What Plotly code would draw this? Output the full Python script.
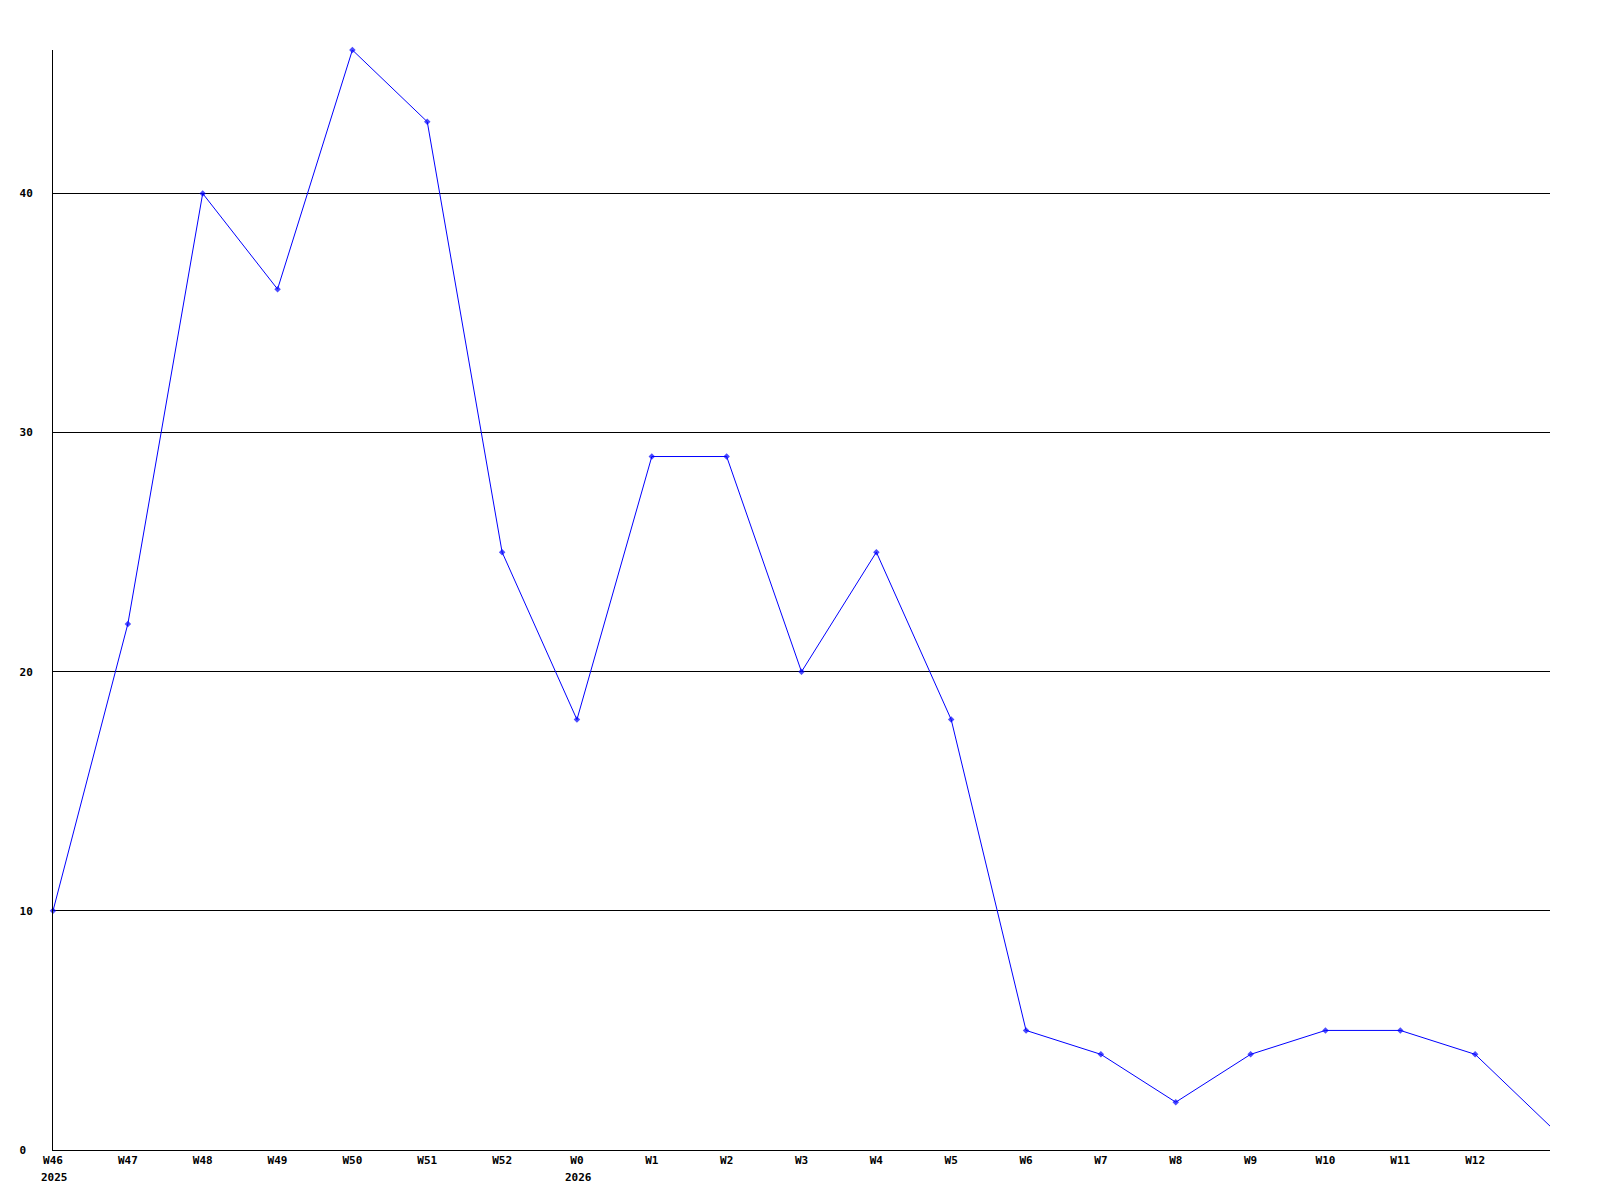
import plotly.graph_objects as go

# weekly counts, W46 2025 .. W13 2026 (last week unlabelled on the axis)
weeks = ["W46", "W47", "W48", "W49", "W50", "W51", "W52", "W0", "W1", "W2",
         "W3", "W4", "W5", "W6", "W7", "W8", "W9", "W10", "W11", "W12", "W13"]
counts = [10, 22, 40, 36, 46, 43, 25, 18, 29, 29,
          20, 25, 18, 5, 4, 2, 4, 5, 5, 4, 1]
year_marks = {"W46": "2025", "W0": "2026"}
y_ticks = [0, 10, 20, 30, 40]

FONT = dict(family="DejaVu Sans Mono, monospace", size=11, color="#000000", weight="bold")

xs = list(range(len(weeks)))
sizes = [5] * (len(weeks) - 1) + [0]

fig = go.Figure(go.Scatter(
    x=xs, y=counts, mode="lines+markers",
    line=dict(color="#0000ff", width=1),
    marker=dict(symbol="diamond", size=sizes, color="#0000ff", line=dict(width=0)),
    cliponaxis=False, hoverinfo="skip",
))

for wk, yr in year_marks.items():
    fig.add_annotation(x=weeks.index(wk), xref="x", y=0, yref="paper", text=yr,
                       showarrow=False, xanchor="left", yanchor="top",
                       xshift=-14, yshift=-19, font=FONT)

# page body adds an 8px offset, so margins are shifted to keep the plot at 50..1550
fig.update_layout(
    width=1600, height=1200, showlegend=False,
    paper_bgcolor="#ffffff", plot_bgcolor="#ffffff",
    margin=dict(l=42, r=58, t=42, b=58),
    font=FONT,
    xaxis=dict(range=[0, len(weeks) - 1], tickvals=xs[:-1], ticktext=weeks[:-1],
               showgrid=False, zeroline=False, showline=True, linecolor="#000000",
               linewidth=1, ticks="", tickfont=FONT, ticklabelstandoff=0),
    yaxis=dict(range=[0, max(counts)], tickvals=y_ticks,
               ticktext=[f"{v}\u00a0" if v < 10 else str(v) for v in y_ticks],
               showgrid=True, gridcolor="#000000", gridwidth=1, zeroline=False,
               showline=True, linecolor="#000000", linewidth=1, ticks="",
               tickfont=FONT, ticklabelstandoff=17),
)

fig.write_html("out.html")
